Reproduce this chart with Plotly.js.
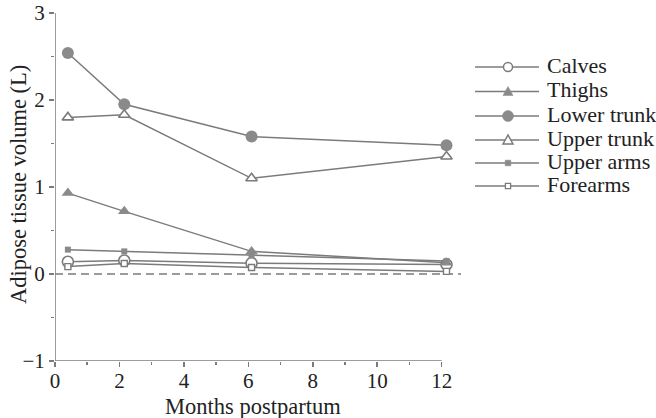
<!DOCTYPE html>
<html>
<head>
<meta charset="utf-8">
<script src="https://cdn.plot.ly/plotly-3.0.1.min.js"></script>
<style>html,body{margin:0;padding:0;background:#fff;}#chart{width:656px;height:418px;}</style>
</head>
<body>
<div id="chart"></div>
<script>
var months = [0.4, 2.15, 6.1, 12.15];
var seriesNames = ["Calves", "Thighs", "Lower trunk", "Upper trunk", "Upper arms", "Forearms"];
var calves = [0.14, 0.155, 0.125, 0.11];
var thighs = [0.93, 0.72, 0.26, 0.13];
var lowerTrunk = [2.54, 1.95, 1.58, 1.48];
var upperTrunk = [1.80, 1.83, 1.10, 1.35];
var upperArms = [0.28, 0.26, 0.22, 0.15];
var forearms = [0.085, 0.12, 0.075, 0.03];
var xTicks = [0, 2, 4, 6, 8, 10, 12];
var yTicks = [-1, 0, 1, 2, 3];
var yTickText = ['\u22121', '0', '1', '2', '3'];

var grey = '#7b7b7b';
var mfill = '#8a8a8a';
var txt = '#222';
var FONT = 'Liberation Serif, Times New Roman, serif';
var FS = 21, FT = 22.5, FL = 22;
var values = [calves, thighs, lowerTrunk, upperTrunk, upperArms, forearms];
var markers = [
  {symbol: 'circle', size: 11, color: '#fff', line: {width: 1.6, color: grey}},
  {symbol: 'triangle-up', size: 11, color: mfill, line: {width: 0}},
  {symbol: 'circle', size: 12, color: mfill, line: {width: 0}},
  {symbol: 'triangle-up', size: 10, color: '#fff', line: {width: 1.6, color: grey}},
  {symbol: 'square', size: 6, color: mfill, line: {width: 0}},
  {symbol: 'square', size: 6, color: '#fff', line: {width: 1.4, color: grey}}
];

var traces = values.map(function (v, i) {
  return {
    x: months, y: v, name: seriesNames[i], type: 'scatter', mode: 'lines+markers',
    line: {color: grey, width: 1.5}, marker: markers[i], cliponaxis: false, showlegend: false
  };
});

// plot-area geometry (px) used to place the hand-built legend and titles
var L = 55, R = 195, T = 13, B = 57, W = 656, H = 418;
var pw = W - L - R, ph = H - T - B;
function px2x(px) { return (px - L) / pw; }
function px2y(py) { return (H - B - py) / ph; }

var legRowsPx = [67, 91.5, 116, 140, 163, 186];
var legLine0 = 475, legLine1 = 539, legMark = 508, legText = 545;

var shapes = [
  {type: 'line', xref: 'x', yref: 'y', x0: 0, x1: 12, y0: -1, y1: -1, line: {color: grey, width: 1.5}},
  {type: 'line', xref: 'x', yref: 'y', x0: 0, x1: 0, y0: -1, y1: 3, line: {color: grey, width: 1.5}},
  {type: 'line', xref: 'x', yref: 'y', x0: 0, x1: 12.6, y0: 0, y1: 0, layer: 'below', line: {color: grey, width: 1.5, dash: '8px,5px'}}
];
var annotations = [
  {text: 'Adipose tissue volume (L)', xref: 'paper', yref: 'paper', x: px2x(19), y: px2y(185),
   textangle: -90, showarrow: false, xanchor: 'center', yanchor: 'middle',
   font: {family: FONT, size: FT, color: txt}},
  {text: 'Months postpartum', xref: 'paper', yref: 'paper', x: px2x(253), y: px2y(406),
   showarrow: false, xanchor: 'center', yanchor: 'middle',
   font: {family: FONT, size: FT, color: txt}}
];

function markerShapes(i, cx, cy) {
  var base = {xref: 'paper', yref: 'paper', xsizemode: 'pixel', ysizemode: 'pixel',
              xanchor: cx, yanchor: cy};
  function mk(o) { return Object.assign({}, base, o); }
  var tri = 'M-5,-4 L5,-4 L0,5 Z';
  switch (i) {
    case 0: return mk({type: 'circle', x0: -4.5, x1: 4.5, y0: -4.5, y1: 4.5, fillcolor: '#fff', line: {color: grey, width: 1.5}});
    case 1: return mk({type: 'path', path: tri, fillcolor: mfill, line: {color: mfill, width: 0.5}});
    case 2: return mk({type: 'circle', x0: -5.5, x1: 5.5, y0: -5.5, y1: 5.5, fillcolor: mfill, line: {color: mfill, width: 0.5}});
    case 3: return mk({type: 'path', path: tri, fillcolor: '#fff', line: {color: grey, width: 1.5}});
    case 4: return mk({type: 'rect', x0: -2.8, x1: 2.8, y0: -2.8, y1: 2.8, fillcolor: mfill, line: {color: mfill, width: 0.5}});
    default: return mk({type: 'rect', x0: -2.6, x1: 2.6, y0: -2.6, y1: 2.6, fillcolor: '#fff', line: {color: grey, width: 1.3}});
  }
}

seriesNames.forEach(function (name, i) {
  var yy = px2y(legRowsPx[i]);
  shapes.push({type: 'line', xref: 'paper', yref: 'paper', x0: px2x(legLine0), x1: px2x(legLine1),
               y0: yy, y1: yy, line: {color: grey, width: 1.5}});
  shapes.push(markerShapes(i, px2x(legMark), yy));
  annotations.push({text: name, xref: 'paper', yref: 'paper', x: px2x(legText), y: yy, yshift: 2,
                    xanchor: 'left', yanchor: 'middle', showarrow: false,
                    font: {family: FONT, size: FL, color: txt}});
});

var layout = {
  width: W, height: H,
  margin: {l: L, r: R, t: T, b: B},
  paper_bgcolor: '#fff', plot_bgcolor: '#fff',
  font: {family: FONT, size: FS, color: txt},
  showlegend: false,
  xaxis: {
    range: [0, 12.6], showline: false, zeroline: false, showgrid: false,
    tickmode: 'array', tickvals: xTicks, ticktext: xTicks.map(String),
    ticks: 'outside', ticklen: 5, tickcolor: grey, tickwidth: 1.5, ticklabelstandoff: -4,
    minor: {dtick: 1, tick0: 0, ticks: 'outside', ticklen: 3, tickcolor: grey, showgrid: false},
    tickfont: {family: FONT, size: FS, color: txt}
  },
  yaxis: {
    range: [-1, 3], showline: false, zeroline: false, showgrid: false,
    tickmode: 'array', tickvals: yTicks, ticktext: yTickText,
    ticks: 'outside', ticklen: 5, tickcolor: grey, tickwidth: 1.5,
    minor: {dtick: 0.5, tick0: 0, ticks: 'outside', ticklen: 3, tickcolor: grey, showgrid: false},
    tickfont: {family: FONT, size: FS, color: txt}
  },
  shapes: shapes,
  annotations: annotations
};

Plotly.newPlot('chart', traces, layout, {displayModeBar: false, staticPlot: true});
</script>
</body>
</html>
